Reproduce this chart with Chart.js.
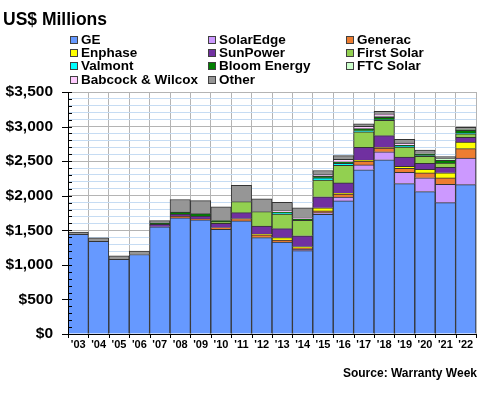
<!DOCTYPE html>
<html>
<head>
<meta charset="utf-8">
<script src="https://cdn.jsdelivr.net/npm/chart.js@4"></script>
<style>
body { margin: 0; background: #fff; font-family: Arial, "Liberation Sans", sans-serif; font-weight: bold; color: #000; }
#wrap { position: relative; width: 480px; height: 400px; overflow: hidden; }
#chart { position: absolute; left: 0; top: 0; }
#title { position: absolute; left: 3px; top: 9px; font-size: 17.5px; line-height: 20px; }
.leg { position: absolute; font-size: 13.5px; line-height: 14px; height: 14px; white-space: nowrap; display: flex; align-items: center; }
.leg i { display: inline-block; width: 6px; height: 6px; border: 1px solid #404040; margin-right: 3px; }
#source { position: absolute; right: 3px; top: 366px; font-size: 12px; line-height: 14px; }
</style>
</head>
<body>
<div id="wrap">
  <canvas id="chart" width="480" height="400"></canvas>
  <div id="title">US$ Millions</div>
  <div id="legend"></div>
  <div id="source">Source: Warranty Week</div>
</div>
<script>
var years = ["'03", "'04", "'05", "'06", "'07", "'08", "'09", "'10", "'11", "'12",
             "'13", "'14", "'15", "'16", "'17", "'18", "'19", "'20", "'21", "'22"];

var ge        = [1440, 1340, 1080, 1150, 1550, 1680, 1650, 1515, 1635, 1395, 1330, 1205, 1730, 1925, 2375, 2520, 2175, 2060, 1900, 2160];
var solarEdge = [0, 0, 0, 0, 0, 0, 0, 0, 0, 0, 0, 20, 25, 55, 70, 115, 165, 200, 265, 385];
var generac   = [0, 0, 0, 0, 0, 25, 15, 25, 35, 40, 30, 20, 25, 45, 55, 55, 55, 70, 92, 135];
var enphase   = [0, 0, 0, 0, 0, 0, 0, 0, 0, 10, 35, 20, 45, 10, 15, 5, 30, 50, 75, 95];
var sunPower  = [0, 0, 0, 0, 35, 30, 40, 60, 85, 115, 130, 155, 160, 150, 185, 175, 135, 90, 80, 70];
var firstSolar = [0, 0, 0, 0, 0, 0, 0, 25, 160, 210, 210, 225, 240, 255, 225, 220, 145, 100, 60, 50];
var valmont   = [0, 0, 0, 0, 0, 0, 0, 0, 0, 0, 15, 0, 35, 30, 15, 10, 10, 10, 0, 10];
var bloom     = [0, 0, 0, 0, 20, 30, 35, 15, 0, 0, 15, 20, 20, 20, 30, 35, 15, 20, 40, 40];
var ftcSolar  = [0, 0, 0, 0, 0, 0, 0, 0, 0, 0, 0, 0, 0, 0, 0, 15, 0, 10, 25, 15];
var babcock   = [0, 0, 0, 0, 0, 0, 0, 0, 0, 0, 20, 20, 25, 35, 35, 35, 30, 15, 0, 0];
var other     = [35, 50, 50, 50, 35, 180, 190, 200, 235, 185, 120, 140, 60, 55, 35, 35, 55, 35, 30, 30];

var names = ["GE", "SolarEdge", "Generac", "Enphase", "SunPower", "First Solar",
             "Valmont", "Bloom Energy", "FTC Solar", "Babcock & Wilcox", "Other"];
var series = [ge, solarEdge, generac, enphase, sunPower, firstSolar, valmont, bloom, ftcSolar, babcock, other];
var colors = ["#6699ff", "#cc99ff", "#ed7d31", "#ffff00", "#7030a0", "#92d050",
              "#00ffff", "#008000", "#ccffcc", "#ffccff", "#969696"];

var font = "Arial, 'Liberation Sans', sans-serif";

// html legend, three columns filled row by row
var legendCols = [70, 208, 346];
var legendRows = [33, 46, 59, 73];
var legend = document.getElementById('legend');
names.forEach(function(name, i) {
    var d = document.createElement('div');
    d.className = 'leg';
    d.style.left = legendCols[i % 3] + 'px';
    d.style.top = legendRows[Math.floor(i / 3)] + 'px';
    d.innerHTML = '<i style="background:' + colors[i] + '"></i>';
    d.appendChild(document.createTextNode(name));
    legend.appendChild(d);
});

var tickMarks = {
    id: 'tickMarks',
    afterDatasetsDraw: function(c) {
        var g = c.ctx, ys = c.scales.y, xs = c.scales.x, a = c.chartArea;
        g.save();
        g.strokeStyle = '#000';
        g.lineWidth = 1;
        g.beginPath();
        ys.ticks.forEach(function(t) {
            var py = Math.round(ys.getPixelForValue(t.value)) + 0.5;
            var major = t.value % 500 === 0;
            g.moveTo(a.left - (major ? 6 : 0), py);
            g.lineTo(a.left + 4, py);
        });
        for (var i = 0; i <= years.length; i++) {
            var px = Math.round(xs.getPixelForValue(i - 0.5)) + 0.5;
            g.moveTo(px, a.bottom);
            g.lineTo(px, a.bottom + 4);
        }
        g.moveTo(Math.round(a.left) + 0.5, a.top);
        g.lineTo(Math.round(a.left) + 0.5, Math.round(a.bottom) + 0.5);
        g.lineTo(a.right, Math.round(a.bottom) + 0.5);
        g.stroke();
        g.restore();
    }
};

var chart = new Chart(document.getElementById('chart').getContext('2d'), {
    type: 'bar',
    data: {
        labels: years,
        datasets: names.map(function(name, i) {
            return {
                label: name,
                data: series[i],
                backgroundColor: colors[i],
                borderColor: '#333333',
                borderWidth: 1
            };
        })
    },
    options: {
        responsive: false,
        animation: false,
        layout: { padding: { top: 92, right: 4, left: 0, bottom: 0 } },
        plugins: { legend: { display: false }, tooltip: { enabled: false } },
        datasets: { bar: { barPercentage: 1, categoryPercentage: 1 } },
        scales: {
            x: {
                stacked: true,
                grid: { offset: true, color: '#b4b4b4', drawTicks: false },
                border: { color: '#000' },
                ticks: { padding: 4, color: '#000', autoSkip: false, maxRotation: 0,
                         font: { family: font, size: 11, weight: 'bold' } },
                afterFit: function(s) { s.height = 66; }
            },
            y: {
                stacked: true,
                min: 0,
                max: 3500,
                grid: {
                    drawTicks: false,
                    color: function(c) { return c.tick && c.tick.value % 500 === 0 ? '#b4b4b4' : '#c6dcf3'; }
                },
                border: { color: '#000' },
                ticks: {
                    stepSize: 100,
                    autoSkip: false,
                    padding: 15,
                    color: '#000',
                    font: { family: font, size: 15.5, weight: 'bold' },
                    callback: function(v) { return v % 500 === 0 ? '$' + v.toLocaleString('en-US') : ''; }
                },
                afterFit: function(s) { s.width = 68; }
            }
        }
    },
    plugins: [tickMarks]
});
</script>
</body>
</html>
